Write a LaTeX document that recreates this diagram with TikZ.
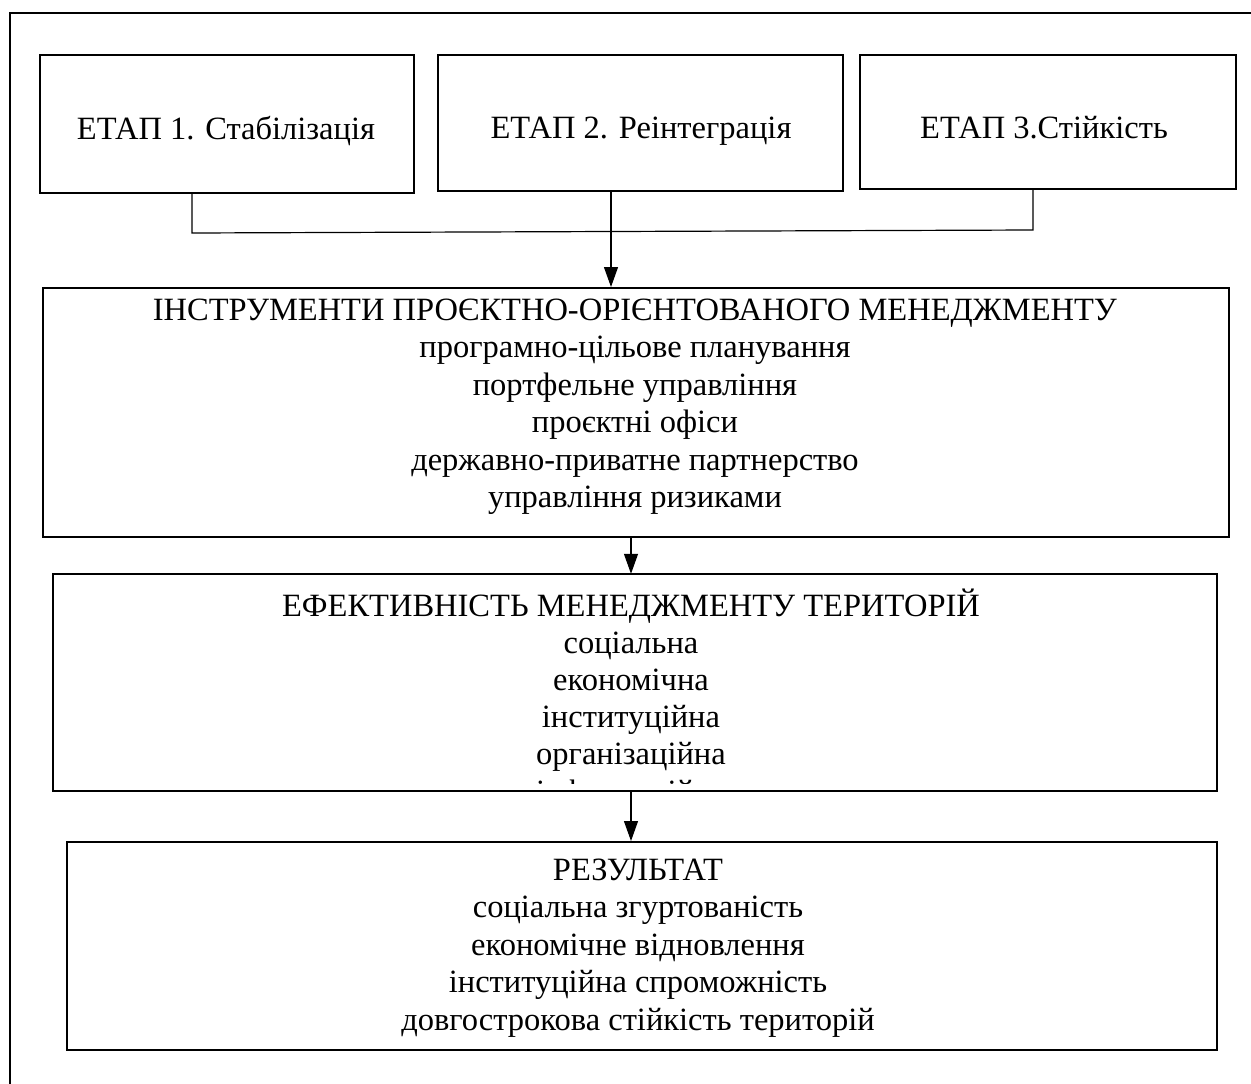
\documentclass[tikz,border=0pt]{standalone}
\usepackage{fontspec}
\setmainfont{Liberation Serif}
\usetikzlibrary{arrows.meta}
\begin{document}
\begin{tikzpicture}[x=1pt,y=-1pt,
  box/.style={draw, line width=2pt, inner sep=0pt},
  frameline/.style={line width=2pt},
  conn/.style={line width=1.2pt},
  arr/.style={conn, -{Triangle[length=20pt,width=14pt]}},
  txt/.style={anchor=base, inner sep=0pt, font=\fontsize{32.5}{37}\selectfont},
  ttxt/.style={anchor=base, inner sep=0pt, font=\fontsize{32.5}{37}\selectfont}]
\useasboundingbox (0,0) rectangle (1251,1084);
% outer frame (top and left visible)
\draw[frameline] (10,1090) -- (10,13) -- (1260,13);
% top boxes
\node[box, minimum width=374pt, minimum height=138pt] (b1) at (227,124) {};
\node[box, minimum width=405pt, minimum height=136pt] (b2) at (640.5,123) {};
\node[box, minimum width=376pt, minimum height=134pt] (b3) at (1048,122) {};
\node[ttxt] (t1) at (226,139) {ЕТАП 1. Стабілізація};
\node[ttxt] (t2) at (641,138) {ЕТАП 2. Реінтеграція};
\node[ttxt] (t3) at (1044,138) {ЕТАП 3.Стійкість};
% box 4
\node[box, minimum width=1186pt, minimum height=249pt] (b4) at (636,412.5) {};
\foreach \s [count=\i] in {ІНСТРУМЕНТИ ПРОЄКТНО-ОРІЄНТОВАНОГО МЕНЕДЖМЕНТУ,
  програмно-цільове планування, портфельне управління, проєктні офіси,
  державно-приватне партнерство, управління ризиками}
  \node[txt] (t4-\i) at ({635},{320+37.5*(\i-1)}) {\s};
% box 5 (text overflows and is clipped)
\node[minimum width=1164pt, minimum height=217pt, inner sep=0pt] (b5) at (635,682.5) {};
\begin{scope}
\clip (b5.north west) rectangle ([yshift=7.5pt]b5.south east);
\foreach \s [count=\i] in {ЕФЕКТИВНІСТЬ МЕНЕДЖМЕНТУ ТЕРИТОРІЙ,
  соціальна, економічна, інституційна, організаційна}
  \node[txt] (t5-\i) at ({631},{616+37*(\i-1)}) {\s};
\node[txt] (t5-6) at (631,802) {інформаційна};
\end{scope}
\draw[line width=2pt] (b5.north west) rectangle (b5.south east);
% box 6
\node[box, minimum width=1150pt, minimum height=208pt] (b6) at (642,946) {};
\foreach \s [count=\i] in {РЕЗУЛЬТАТ, соціальна згуртованість,
  економічне відновлення, інституційна спроможність,
  довгострокова стійкість територій}
  \node[txt] (t6-\i) at ({638},{880+37.5*(\i-1)}) {\s};
% connectors
\coordinate (jl) at (192,233);
\coordinate (jr) at (1033,230);
\coordinate (m1) at (611,0);
\coordinate (m2) at (631,0);
\draw[conn] (b1.south -| jl) -- (jl) -- (jr) -- (b3.south -| jr);
\draw[arr] (b2.south -| m1) -- (b4.north -| m1);
\draw[arr] (b4.south -| m2) -- (b5.north -| m2);
\draw[arr] (b5.south -| m2) -- (b6.north -| m2);
\end{tikzpicture}
\end{document}
